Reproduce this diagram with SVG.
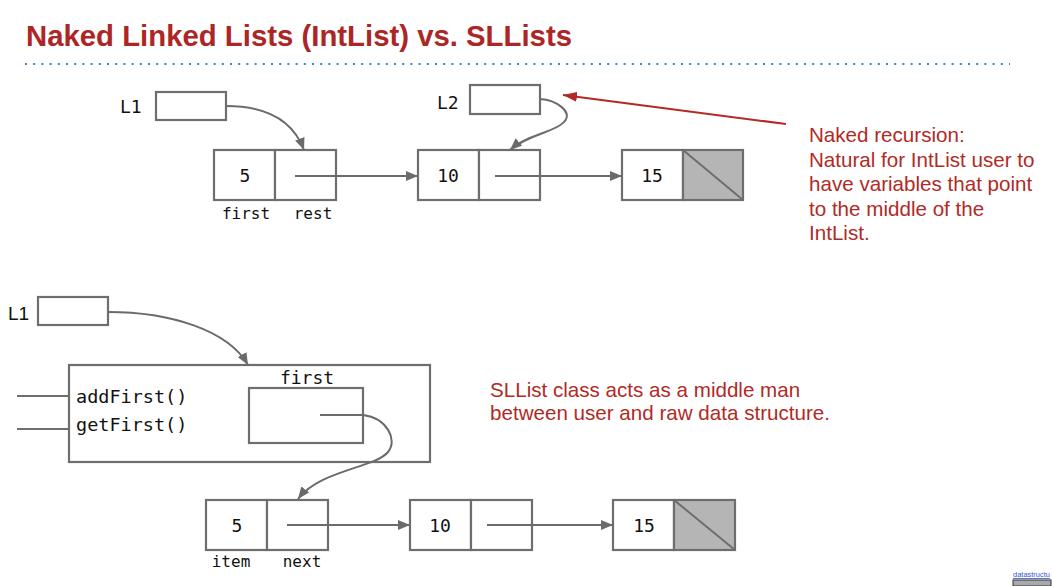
<svg xmlns="http://www.w3.org/2000/svg" width="1052" height="586" viewBox="0 0 1052 586">
<defs>
<marker id="ah" viewBox="0 0 12 10" refX="12" refY="5" markerWidth="12" markerHeight="10" markerUnits="userSpaceOnUse" orient="auto">
<path d="M0,0 L12,5 L0,10 Z" fill="#6b6b6b"/>
</marker>
<marker id="ahr" viewBox="0 0 14 10" refX="14" refY="5" markerWidth="14" markerHeight="10" markerUnits="userSpaceOnUse" orient="auto">
<path d="M0,0 L14,5 L0,10 Z" fill="#b22a25"/>
</marker>
<style>
.box{fill:#fff;stroke:#6e6e6e;stroke-width:2.2}
.nil{fill:#b5b5b5;stroke:#6e6e6e;stroke-width:2.2}
.ln{fill:none;stroke:#6b6b6b;stroke-width:2}
.mono{font-family:"DejaVu Sans Mono","Liberation Mono",monospace;fill:#111}
.red{font-family:"Liberation Sans",Arial,sans-serif;font-size:20.6px;fill:#b22a25}
</style>
</defs>
<rect width="1052" height="586" fill="#fff"/>
<g id="title">
<text x="26" y="46" font-family="Liberation Sans, Arial, sans-serif" font-weight="bold" font-size="30" fill="#ac2626" textLength="546" lengthAdjust="spacingAndGlyphs">Naked Linked Lists (IntList) vs. SLLists</text>
<line x1="25" y1="64" x2="1010" y2="64" stroke="#3f7fd1" stroke-width="2" stroke-dasharray="2 6.2"/>
</g>
<g id="top-L1">
<text class="mono" x="120" y="113" font-size="18">L1</text>
<rect class="box" x="156" y="92" width="70" height="28"/>
</g>
<g id="top-L2">
<text class="mono" x="437" y="109" font-size="18">L2</text>
<rect class="box" x="470" y="85" width="70" height="29"/>
</g>
<g id="top-n5">
<rect class="box" x="214" y="150" width="61" height="50"/>
<rect class="box" x="275" y="150" width="61" height="50"/>
<text class="mono" x="245" y="182" font-size="18" text-anchor="middle">5</text>
<text class="mono" x="246" y="219" font-size="16" text-anchor="middle">first</text>
<text class="mono" x="313" y="219" font-size="16" text-anchor="middle">rest</text>
</g>
<g id="top-n10">
<rect class="box" x="418" y="150" width="61" height="50"/>
<rect class="box" x="479" y="150" width="61" height="50"/>
<text class="mono" x="448" y="182" font-size="18" text-anchor="middle">10</text>
</g>
<g id="top-n15">
<rect class="box" x="622" y="150" width="61" height="50"/>
<rect class="nil" x="683" y="150" width="60" height="50"/>
<line x1="683" y1="150" x2="743" y2="200" stroke="#6e6e6e" stroke-width="2"/>
<text class="mono" x="652" y="182" font-size="18" text-anchor="middle">15</text>
</g>
<g id="note-top">
<text class="red"><tspan x="809" y="142">Naked recursion:</tspan><tspan x="809" y="166.5">Natural for IntList user to</tspan><tspan x="809" y="191">have variables that point</tspan><tspan x="809" y="215.5">to the middle of the</tspan><tspan x="809" y="240">IntList.</tspan></text>
</g>
<g id="bot-L1">
<text x="8" y="320" font-family="Liberation Sans, Arial, sans-serif" font-size="19" fill="#111">L1</text>
<rect class="box" x="38" y="297" width="70" height="28"/>
</g>
<g id="sllist">
<rect class="box" x="69" y="365" width="361" height="97"/>
<text class="mono" x="307" y="384" font-size="18" text-anchor="middle">first</text>
<rect class="box" x="249" y="388" width="114" height="55"/>
<text class="mono" x="76" y="403" font-size="18.5">addFirst()</text>
<text class="mono" x="76" y="431" font-size="18.5">getFirst()</text>
<line x1="17" y1="396" x2="69" y2="396" stroke="#6e6e6e" stroke-width="2"/>
<line x1="17" y1="429" x2="69" y2="429" stroke="#6e6e6e" stroke-width="2"/>
</g>
<g id="bot-n5">
<rect class="box" x="206" y="500" width="61" height="50"/>
<rect class="box" x="267" y="500" width="61" height="50"/>
<text class="mono" x="237" y="532" font-size="18" text-anchor="middle">5</text>
<text class="mono" x="231" y="567" font-size="16" text-anchor="middle">item</text>
<text class="mono" x="302" y="567" font-size="16" text-anchor="middle">next</text>
</g>
<g id="bot-n10">
<rect class="box" x="410" y="500" width="61" height="50"/>
<rect class="box" x="471" y="500" width="61" height="50"/>
<text class="mono" x="440" y="532" font-size="18" text-anchor="middle">10</text>
</g>
<g id="bot-n15">
<rect class="box" x="613" y="500" width="61" height="50"/>
<rect class="nil" x="674" y="500" width="61" height="50"/>
<line x1="674" y1="500" x2="735" y2="550" stroke="#6e6e6e" stroke-width="2"/>
<text class="mono" x="644" y="532" font-size="18" text-anchor="middle">15</text>
</g>
<g id="note-bot">
<text class="red"><tspan x="490" y="397">SLList class acts as a middle man</tspan><tspan x="490" y="420">between user and raw data structure.</tspan></text>
</g>
<g id="connectors">
<path class="ln" d="M226,106 C262,106 292,118 304,150" marker-end="url(#ah)"/>
<line class="ln" x1="295" y1="176" x2="418" y2="176" marker-end="url(#ah)"/>
<line class="ln" x1="495" y1="176" x2="622" y2="176" marker-end="url(#ah)"/>
<path class="ln" d="M540,99 C556,100 574,112 564,122 C556,132 528,134 510,150" marker-end="url(#ah)"/>
<line x1="786" y1="124" x2="563" y2="95" stroke="#b22a25" stroke-width="2" marker-end="url(#ahr)"/>
<path class="ln" d="M108,312 C170,312 228,330 248,365" marker-end="url(#ah)"/>
<path class="ln" d="M320,415 L363,415 C387,418 398,440 388,452 C375,468 320,470 298,499" marker-end="url(#ah)"/>
<line class="ln" x1="287" y1="525" x2="410" y2="525" marker-end="url(#ah)"/>
<line class="ln" x1="487" y1="525" x2="613" y2="525" marker-end="url(#ah)"/>
</g>
<g id="footer">
<text x="1013" y="577" font-family="Liberation Sans, Arial, sans-serif" font-size="8" fill="#3355cc" text-decoration="underline" textLength="37" lengthAdjust="spacingAndGlyphs">datastructu</text>
<rect x="1013" y="580" width="38" height="6" fill="#aaa" stroke="#333" stroke-width="1"/>
</g>
</svg>
